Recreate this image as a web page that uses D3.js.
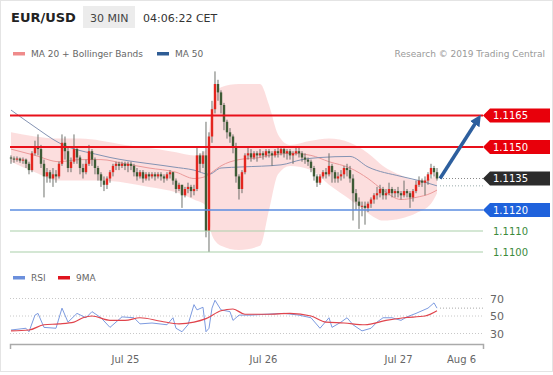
<!DOCTYPE html>
<html>
<head>
<meta charset="utf-8">
<script src="https://cdn.jsdelivr.net/npm/d3@7"></script>
<style>
  body { margin: 0; background: #fff; }
  svg { font-family: "DejaVu Sans", sans-serif; display: block; }
</style>
</head>
<body>
<div id="chart"></div>
<script>
const width = 553;
const height = 375;

// 30 min candles, EUR/USD (close / high / low, open = previous close)
const firstOpen = 1.1145;
const close = [
  1.11445,1.1144,1.11445,1.11435,1.1144,1.1142,1.1139,1.1147,1.1150,1.1149,
  1.1142,1.1136,1.1138,1.1135,1.1137,1.1136,1.1142,1.1152,1.1148,1.1140,
  1.1143,1.1149,1.1145,1.1140,1.1138,1.1142,1.1148,1.1144,1.1140,1.1137,
  1.1134,1.1132,1.1135,1.1138,1.1141,1.1142,1.1141,1.1142,1.1141,1.1142,
  1.1141,1.1138,1.1136,1.1138,1.1135,1.1137,1.1136,1.1137,1.1136,1.1137,
  1.1136,1.1135,1.1137,1.1138,1.1134,1.1130,1.1132,1.1127,1.1130,1.1131,
  1.1129,1.1130,1.1146,1.1142,1.1146,1.1110,1.1155,1.1168,1.1180,1.1176,
  1.1170,1.1162,1.1157,1.1155,1.1150,1.1136,1.1130,1.1138,1.1146,1.1147,
  1.1145,1.1147,1.1146,1.1147,1.1146,1.1148,1.1147,1.1146,1.1148,1.1147,
  1.1149,1.1147,1.1148,1.1146,1.1147,1.1148,1.1147,1.1145,1.1144,1.1143,
  1.1140,1.1136,1.1133,1.1136,1.1138,1.1137,1.1141,1.1138,1.1135,1.1136,
  1.1137,1.1140,1.1139,1.1135,1.1128,1.1124,1.1122,1.1122,1.1121,1.1123,
  1.1125,1.1127,1.1128,1.1130,1.1127,1.1128,1.1130,1.1128,1.1129,1.1128,
  1.1127,1.1129,1.1128,1.1126,1.1129,1.1132,1.1134,1.1133,1.1134,1.1137,
  1.1140,1.1138,1.1135
];
const high = [
  1.1146,1.11455,1.11455,1.1145,1.1145,1.11445,1.1143,1.1148,1.1153,1.1156,
  1.1151,1.1144,1.1140,1.1139,1.1140,1.1139,1.1143,1.1156,1.1155,1.1150,
  1.1145,1.1156,1.1150,1.1146,1.1142,1.1144,1.1151,1.1149,1.1145,1.1141,
  1.1138,1.1136,1.1136,1.1139,1.1142,1.1143,1.1143,1.1143,1.1143,1.1143,
  1.1143,1.1142,1.1140,1.1139,1.1139,1.1138,1.1138,1.1138,1.1138,1.1138,
  1.1138,1.1137,1.1138,1.1139,1.1138,1.1135,1.1133,1.1132,1.1131,1.1133,
  1.1132,1.1132,1.1150,1.1147,1.1148,1.1162,1.1157,1.1172,1.1186,1.1182,
  1.1177,1.1171,1.1163,1.1159,1.1156,1.1152,1.1137,1.1139,1.1147,1.1150,
  1.1149,1.1148,1.1148,1.1149,1.1148,1.1149,1.1149,1.1148,1.1149,1.1150,
  1.1150,1.1150,1.1149,1.1149,1.1148,1.1150,1.1150,1.1148,1.1147,1.1145,
  1.1144,1.1141,1.1137,1.1137,1.1139,1.1140,1.1147,1.1142,1.1139,1.1138,
  1.1139,1.1141,1.1142,1.1141,1.1137,1.1130,1.1126,1.1124,1.1124,1.1124,
  1.1126,1.1128,1.1131,1.1132,1.1131,1.1130,1.1133,1.1131,1.1130,1.1131,
  1.1129,1.1134,1.1130,1.1129,1.1130,1.1134,1.1136,1.1135,1.1136,1.1138,
  1.1142,1.1141,1.1140
];
const low = [
  1.1142,1.11425,1.1143,1.11425,1.1142,1.1140,1.1137,1.1138,1.1146,1.1146,
  1.1140,1.1126,1.1133,1.1133,1.1131,1.1133,1.1135,1.1141,1.1144,1.1138,
  1.1138,1.1142,1.1142,1.1137,1.1135,1.1137,1.1141,1.1141,1.1137,1.1134,
  1.1131,1.1129,1.1130,1.1133,1.1136,1.1139,1.1139,1.1140,1.1139,1.1138,
  1.1139,1.1136,1.1134,1.1135,1.1133,1.1134,1.1134,1.1135,1.1134,1.1135,
  1.1134,1.1133,1.1134,1.1135,1.1132,1.1128,1.1129,1.1121,1.1126,1.1128,
  1.1126,1.1127,1.1129,1.1138,1.1140,1.1107,1.1100,1.1152,1.1166,1.1172,
  1.1166,1.1158,1.1154,1.1152,1.1147,1.1133,1.1125,1.1128,1.1137,1.1144,
  1.1143,1.1144,1.1143,1.1145,1.1144,1.1145,1.1145,1.1141,1.1145,1.1145,
  1.1146,1.1145,1.1144,1.1144,1.1142,1.1146,1.1145,1.1143,1.1142,1.1141,
  1.1138,1.1134,1.1131,1.1132,1.1135,1.1135,1.1136,1.1133,1.1133,1.1133,
  1.1134,1.1135,1.1136,1.1133,1.1115,1.1120,1.1111,1.1117,1.1113,1.1119,
  1.1121,1.1123,1.1125,1.1126,1.1125,1.1125,1.1127,1.1126,1.1126,1.1126,
  1.1125,1.1126,1.1126,1.1121,1.1124,1.1128,1.1131,1.1131,1.1127,1.1132,
  1.1135,1.1136,1.1134
];

// MA 20 + Bollinger Bands, read at some candle indices
const bandIdx   = [0, 8, 16, 23, 30, 38, 46, 55, 61, 65, 67, 70, 76, 83, 86, 89, 93, 100, 106, 113, 119, 124, 130, 135, 140, 142];
const bandUpper = [1.1157,1.1155,1.1154,1.1154,1.1153,1.1151,1.11495,1.11475,1.1146,1.11485,1.1168,1.11785,1.1180,1.1180,1.1170,1.1156,1.1151,1.1153,1.1154,1.1152,1.1147,1.1141,1.11365,1.1134,1.1135,1.1139];
const ma20      = [1.1149,1.1146,1.1143,1.1144,1.1144,1.1142,1.1140,1.1138,1.1135,1.1136,1.1138,1.1141,1.1144,1.1145,1.1146,1.11465,1.1147,1.1146,1.1143,1.1140,1.1135,1.11295,1.1125,1.1126,1.1128,1.11295];
const bandLower = [1.1143,1.1138,1.1134,1.1134,1.1134,1.1133,1.1131,1.11285,1.1125,1.1122,1.1108,1.1103,1.1101,1.1103,1.1120,1.1137,1.1141,1.1139,1.1132,1.1125,1.11185,1.1115,1.1116,1.11185,1.1123,1.1128];

// MA 50
const ma50Idx = [0, 8, 16, 30, 54, 61, 66, 70, 77, 90, 97, 103, 113, 119, 130, 136, 142];
const ma50    = [1.11676,1.11595,1.1152,1.1146,1.11405,1.1139,1.1137,1.1140,1.11405,1.11415,1.1144,1.1145,1.11455,1.11405,1.1136,1.1134,1.11315];

// levels
const resistances = [1.1165, 1.1150];
const lastPrice = 1.1135;
const pivot = 1.1120;
const supports = [1.1110, 1.1100];
const target = 1.1165;

// RSI panel
const rsiIdx = [0,5,6,8,9,11,15,17,19,22,25,27,30,33,37,41,43,47,52,54,55,57,59,61,62,64,65,66,67,68,70,73,74,76,80,85,91,96,100,103,106,107,110,112,114,117,120,122,124,127,130,132,135,139,141,142];
const rsi    = [34,36,32,51,53,37,36,59,43,53,48,55,48,37,49,48,41,42,40,48,36,32,40,63,57,60,32,36,59,68,57,55,45,51,51,52,53,51,48,36,48,37,43,48,40,33,36,43,48,48,45,49,53,59,65,59];
const rsiMaIdx = [0,6,11,16,21,24,27,33,38,43,50,56,61,65,70,74,78,85,93,100,105,111,118,125,131,138,142];
const rsiMa    = [33,34,40,41,43,48,50,45,45,48,44,41,43,47,56,58,52,52,53,50,43,42,40,45,48,50,56];
const rsiTicks = [70, 50, 30];

// time axis
const dayIdx = [38, 84, 129, 150];
const dayLabels = ["Jul 25", "Jul 26", "Jul 27", "Aug 6"];

const svg = d3.select("#chart")
    .append("svg")
    .attr("width", width)
    .attr("height", height);

svg.append("rect")
    .attr("x", 0.5).attr("y", 0.5)
    .attr("width", width - 1).attr("height", height - 4)
    .attr("fill", "#fff")
    .attr("stroke", "#e4e4e4");

// header
svg.append("text").attr("x", 11).attr("y", 22)
    .attr("font-size", 13).attr("font-weight", "bold").attr("fill", "#222")
    .text("EUR/USD");
svg.append("rect").attr("x", 83).attr("y", 6).attr("width", 52).attr("height", 22)
    .attr("fill", "#ececec");
svg.append("text").attr("x", 90).attr("y", 21.5)
    .attr("font-size", 11).attr("fill", "#444").text("30 MIN");
svg.append("text").attr("x", 143).attr("y", 21.5)
    .attr("font-size", 11).attr("fill", "#333").text("04:06:22 CET");

// legends
function legendItem(x, yy, color, label) {
    svg.append("rect").attr("x", x).attr("y", yy - 5).attr("width", 12).attr("height", 3.5)
        .attr("fill", color);
    svg.append("text").attr("x", x + 18).attr("y", yy)
        .attr("font-size", 9).attr("fill", "#666").text(label);
}
legendItem(13, 57, "#ef8b8b", "MA 20 + Bollinger Bands");
legendItem(157, 57, "#2f5d95", "MA 50");
legendItem(13, 281, "#6b8fdc", "RSI");
legendItem(58, 281, "#e0141e", "9MA");

svg.append("text").attr("x", 545).attr("y", 57).attr("text-anchor", "end")
    .attr("font-size", 9).attr("fill", "#999").text("Research \u00a9 2019 Trading Central");

// scales
const x = d3.scaleLinear().domain([-0.33, 157.33]).range([10, 483]);
const y = d3.scaleLinear().domain([1.1100, 1.1165]).range([252, 115.5]);
const yR = d3.scaleLinear().domain([30, 70]).range([333.5, 298.5]);
const xLeft = x.range()[0], xRight = x.range()[1];

// bollinger band
const band = bandIdx.map((d, i) => ({ i: d, u: bandUpper[i], m: ma20[i], l: bandLower[i] }));
svg.append("path")
    .datum(band)
    .attr("fill", "#fbd3d3")
    .attr("opacity", 0.75)
    .attr("d", d3.area().curve(d3.curveMonotoneX)
        .x(d => x(d.i)).y0(d => y(d.l)).y1(d => y(d.u)));
svg.append("path")
    .datum(band)
    .attr("fill", "none")
    .attr("stroke", "#eb9a9a")
    .attr("stroke-width", 1)
    .attr("d", d3.line().curve(d3.curveMonotoneX).x(d => x(d.i)).y(d => y(d.m)));

// MA 50
svg.append("path")
    .datum(ma50Idx.map((d, i) => [d, ma50[i]]))
    .attr("fill", "none")
    .attr("stroke", "#8493b3")
    .attr("stroke-width", 1)
    .attr("d", d3.line().curve(d3.curveMonotoneX).x(d => x(d[0])).y(d => y(d[1])));

// candles
const candles = close.map((c, i) => ({
    i: i,
    o: i ? close[i - 1] : firstOpen,
    c: c,
    h: high[i],
    l: low[i]
}));
const cg = svg.append("g");
cg.selectAll("line")
    .data(candles)
    .join("line")
    .attr("x1", d => x(d.i)).attr("x2", d => x(d.i))
    .attr("y1", d => y(d.h)).attr("y2", d => y(d.l))
    .attr("stroke", "#5f625c")
    .attr("stroke-width", 0.9);
cg.selectAll("rect")
    .data(candles)
    .join("rect")
    .attr("x", d => x(d.i) - 1.2)
    .attr("width", 2.4)
    .attr("y", d => y(Math.max(d.o, d.c)))
    .attr("height", d => Math.max(1, Math.abs(y(d.o) - y(d.c))))
    .attr("fill", d => d.c >= d.o ? "#e3261f" : "#3e5b36");

// level lines
svg.selectAll(".res")
    .data(resistances)
    .join("line")
    .attr("x1", xLeft).attr("x2", xRight)
    .attr("y1", d => y(d)).attr("y2", d => y(d))
    .attr("stroke", "#e8101a").attr("stroke-width", 2);
svg.append("line")
    .attr("x1", xLeft).attr("x2", xRight)
    .attr("y1", y(pivot)).attr("y2", y(pivot))
    .attr("stroke", "#5b8de0").attr("stroke-width", 1.6);
svg.selectAll(".sup")
    .data(supports)
    .join("line")
    .attr("x1", xLeft).attr("x2", xRight)
    .attr("y1", d => y(d)).attr("y2", d => y(d))
    .attr("stroke", "#a9cfa9").attr("stroke-width", 1.2);

// dotted extensions from last candle
const lastI = close.length - 1;
[[lastPrice, "#888"], [ma50[ma50.length - 1], "#9aa"]].forEach(([v, col]) => {
    svg.append("line")
        .attr("x1", x(lastI) + 3).attr("x2", xRight)
        .attr("y1", y(v)).attr("y2", y(v))
        .attr("stroke", col).attr("stroke-width", 1)
        .attr("stroke-dasharray", "1,2");
});

// forecast arrow
svg.append("defs").append("marker")
    .attr("id", "ah")
    .attr("viewBox", "0 0 10 10")
    .attr("refX", 5).attr("refY", 5)
    .attr("markerWidth", 3.2).attr("markerHeight", 3.2)
    .attr("orient", "auto")
    .append("path").attr("d", "M0,0 L10,5 L0,10 z").attr("fill", "#2d5f9e");
svg.append("line")
    .attr("x1", x(lastI + 1)).attr("y1", y(lastPrice))
    .attr("x2", x(155.6)).attr("y2", y(target) + 4)
    .attr("stroke", "#2d5f9e").attr("stroke-width", 3.5)
    .attr("marker-end", "url(#ah)");

// right tags
function tag(v, color) {
    const yy = y(v);
    svg.append("path")
        .attr("d", `M${xRight},${yy} L${xRight + 7},${yy - 7} L550,${yy - 7} L550,${yy + 7} L${xRight + 7},${yy + 7} Z`)
        .attr("fill", color);
    svg.append("text").attr("x", xRight + 10).attr("y", yy + 3.6)
        .attr("font-size", 10).attr("fill", "#fff").text(v.toFixed(4));
}
resistances.forEach(v => tag(v, "#e8000b"));
tag(lastPrice, "#2c2c2c");
tag(pivot, "#1f62dc");
supports.forEach(v => {
    svg.append("text").attr("x", xRight + 10).attr("y", y(v) + 3.6)
        .attr("font-size", 10).attr("fill", "#3b8a3b").text(v.toFixed(4));
});

// RSI panel
svg.selectAll(".rt")
    .data(rsiTicks)
    .join("line")
    .attr("x1", xLeft).attr("x2", xRight)
    .attr("y1", d => yR(d)).attr("y2", d => yR(d))
    .attr("stroke", "#c8c8c8").attr("stroke-dasharray", "1,2");
svg.selectAll(".rl")
    .data(rsiTicks)
    .join("text")
    .attr("x", 490).attr("y", d => yR(d) + 4)
    .attr("font-size", 11).attr("fill", "#666")
    .text(d => d);

svg.append("line")
    .attr("x1", x(lastI) + 3).attr("x2", xRight)
    .attr("y1", yR(rsi[rsi.length - 1])).attr("y2", yR(rsi[rsi.length - 1]))
    .attr("stroke", "#aaa").attr("stroke-dasharray", "1,2");

svg.append("path")
    .datum(rsiIdx.map((d, i) => [d, rsi[i]]))
    .attr("fill", "none")
    .attr("stroke", "#7d9be0")
    .attr("stroke-width", 1)
    .attr("d", d3.line().x(d => x(d[0])).y(d => yR(d[1])));
svg.append("path")
    .datum(rsiMaIdx.map((d, i) => [d, rsiMa[i]]))
    .attr("fill", "none")
    .attr("stroke", "#e0444c")
    .attr("stroke-width", 1.2)
    .attr("d", d3.line().curve(d3.curveMonotoneX).x(d => x(d[0])).y(d => yR(d[1])));

// time axis
const xAxis = d3.axisBottom(x)
    .tickValues(dayIdx)
    .tickFormat((d, i) => dayLabels[i])
    .tickSizeInner(0)
    .tickSizeOuter(5)
    .tickPadding(12);
const ax = svg.append("g")
    .attr("transform", "translate(0,344)")
    .call(xAxis);
ax.select(".domain").attr("stroke", "#aaa").attr("stroke-width", 1.5);
ax.selectAll("text")
    .attr("font-family", "DejaVu Sans, sans-serif")
    .attr("font-size", 10)
    .attr("fill", "#666");
</script>
</body>
</html>
